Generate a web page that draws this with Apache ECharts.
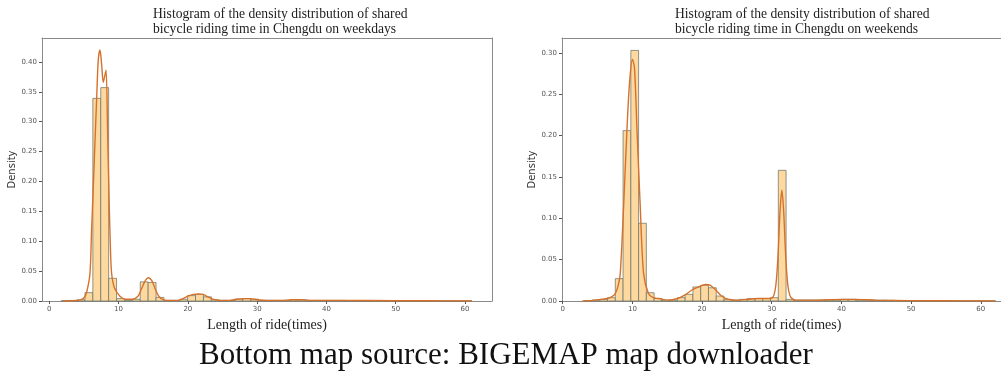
<!DOCTYPE html>
<html>
<head>
<meta charset="utf-8">
<script src="https://cdn.jsdelivr.net/npm/echarts@6/dist/echarts.min.js"></script>
<style>
html,body{margin:0;padding:0;background:#fff;}
#chart{width:1001px;height:373px;}
</style>
</head>
<body>
<div id="chart"></div>
<script>
// ---------- data ----------
const titleWeekday = 'Histogram of the density distribution of shared\nbicycle riding time in Chengdu on weekdays';
const titleWeekend = 'Histogram of the density distribution of shared\nbicycle riding time in Chengdu on weekends';
const xAxisTitle = 'Length of ride(times)';
const yAxisTitle = 'Density';
const caption = 'Bottom map source: BIGEMAP map downloader';

const xTicks = [0, 10, 20, 30, 40, 50, 60];
const yTicksWeekday = [0, 0.05, 0.10, 0.15, 0.20, 0.25, 0.30, 0.35, 0.40];
const yTicksWeekend = [0, 0.05, 0.10, 0.15, 0.20, 0.25, 0.30];

// histogram bins (left edge of first bin, bin width) and densities
const weekdayBinStart = 1.73;
const weekdayBinWidth = 1.14;
const weekdayDensity = [
  0.0005, 0.001, 0.002, 0.014, 0.339, 0.357, 0.038, 0.004, 0.001, 0.003,
  0.032, 0.031, 0.006, 0.001, 0.001, 0.003, 0.009, 0.011, 0.007, 0.002,
  0.001, 0.001, 0.003, 0.004, 0.003, 0.001, 0.001, 0.001, 0.001, 0.002,
  0.002, 0.001, 0.001, 0.001, 0.001, 0.001, 0.0008, 0.0008, 0.0006, 0.0006,
  0.0005, 0.0005, 0.0004, 0.0004, 0.0003, 0.0003, 0.0003, 0.0002, 0.0002, 0.0002,
  0.0001, 0.0001
];

const weekendBinStart = 3.094;
const weekendBinWidth = 1.114;
const weekendDensity = [
  0.0005, 0.001, 0.002, 0.004, 0.027, 0.206, 0.303, 0.094, 0.010, 0.003,
  0.001, 0.001, 0.004, 0.008, 0.017, 0.019, 0.016, 0.006, 0.002, 0.001,
  0.002, 0.003, 0.003, 0.003, 0.004, 0.158, 0.002, 0.001, 0.001, 0.001,
  0.001, 0.001, 0.001, 0.002, 0.002, 0.001, 0.001, 0.001, 0.001, 0.0008,
  0.0006, 0.0005, 0.0005, 0.0004, 0.0004, 0.0003, 0.0003, 0.0002, 0.0002, 0.0002,
  0.0001, 0.0001, 0.0001
];

// kernel density curves: [ride length, density]
const weekdayKde = [
  [2.0,0.0],[3.5,0.0005],[4.5,0.002],[5.0,0.005],[5.4,0.015],[5.87,0.046],[6.1,0.116],
  [6.38,0.2],[6.6,0.267],[6.85,0.342],[7.07,0.403],[7.32,0.42],[7.55,0.397],[7.79,0.366],
  [8.0,0.376],[8.2,0.386],[8.43,0.275],[8.66,0.158],[8.85,0.08],[9.0,0.046],[9.4,0.022],
  [10.2,0.008],[11.0,0.003],[12.0,0.003],[12.8,0.008],[13.3,0.02],[13.8,0.033],[14.3,0.039],
  [14.8,0.034],[15.3,0.02],[15.8,0.008],[16.5,0.002],[17.5,0.001],[18.5,0.001],[19.3,0.004],
  [20.0,0.008],[20.8,0.011],[21.5,0.012],[22.2,0.011],[22.9,0.007],[23.6,0.003],[24.5,0.001],
  [26.0,0.001],[27.0,0.003],[28.0,0.004],[29.0,0.004],[30.0,0.002],[31.5,0.001],[33.5,0.001],
  [35.0,0.002],[36.5,0.002],[38.0,0.001],[42.0,0.001],[50.0,0.0005],[55.0,0.0003],[61.0,0.0]
];
const weekendKde = [
  [2.8,0.0],[4.0,0.0005],[5.5,0.002],[6.4,0.003],[7.0,0.005],[7.55,0.009],[8.0,0.02],
  [8.27,0.034],[8.74,0.114],[9.22,0.207],[9.6,0.265],[10.0,0.292],[10.3,0.282],[10.66,0.207],
  [11.13,0.114],[11.6,0.034],[12.3,0.009],[13.0,0.004],[13.75,0.003],[15.0,0.001],[16.5,0.003],
  [17.5,0.007],[18.5,0.013],[19.5,0.017],[20.5,0.020],[21.2,0.019],[22.0,0.013],[22.8,0.006],
  [23.8,0.002],[25.0,0.001],[26.5,0.002],[28.0,0.003],[29.5,0.003],[30.2,0.005],[30.6,0.02],
  [30.9,0.055],[31.2,0.11],[31.45,0.134],[31.7,0.11],[32.0,0.055],[32.3,0.02],[32.7,0.005],
  [33.5,0.001],[36.0,0.001],[40.0,0.002],[42.0,0.002],[45.0,0.001],[50.0,0.0005],[55.0,0.0003],
  [62.0,0.0]
];

// ---------- chart ----------
const BAR_FILL = '#fdd9a0';
const BAR_EDGE = 'rgba(110,118,105,0.75)';
const KDE_COLOR = '#d7712a';
const FRAME = '#8a8a8a';

function histSeries(density, start, width, idx) {
  return {
    type: 'custom',
    xAxisIndex: idx, yAxisIndex: idx,
    data: density.map((d, i) => [start + i * width, d]),
    renderItem: function (params, api) {
      const x0 = api.value(0);
      const h = api.value(1);
      const p0 = api.coord([x0, h]);
      const p1 = api.coord([x0 + width, 0]);
      return {
        type: 'rect',
        shape: { x: p0[0], y: p0[1], width: p1[0] - p0[0], height: p1[1] - p0[1] },
        style: { fill: BAR_FILL, stroke: BAR_EDGE, lineWidth: 1 }
      };
    },
    z: 2
  };
}
function kdeSeries(data, idx) {
  return {
    type: 'line', xAxisIndex: idx, yAxisIndex: idx, data: data,
    smooth: 0.3, showSymbol: false, symbol: 'none',
    lineStyle: { color: KDE_COLOR, width: 1.4 }, z: 3, silent: true
  };
}
function xAxis(idx, min, max) {
  return {
    type: 'value', gridIndex: idx, min: min, max: max, position: 'bottom',
    axisLine: { show: true, onZero: false, lineStyle: { color: FRAME, width: 1 } },
    splitLine: { show: false },
    axisTick: { show: true, length: 3, lineStyle: { color: '#555' }, customValues: xTicks },
    axisLabel: { customValues: xTicks, fontSize: 7, color: '#555', fontFamily: 'DejaVu Sans', margin: 5 },
    name: xAxisTitle, nameLocation: 'middle', nameGap: 16,
    nameTextStyle: { fontFamily: 'Liberation Serif', fontSize: 14, color: '#222' }
  };
}
function topFrame(idx, min, max) {
  return {
    type: 'value', gridIndex: idx, min: min, max: max, position: 'top',
    axisLine: { show: true, onZero: false, lineStyle: { color: FRAME, width: 1 } },
    axisTick: { show: false }, axisLabel: { show: false }, splitLine: { show: false }
  };
}
function yAxis(idx, max, ticks) {
  return {
    type: 'value', gridIndex: idx, min: 0, max: max, position: 'left',
    axisLine: { show: true, onZero: false, lineStyle: { color: FRAME, width: 1 } },
    splitLine: { show: false },
    axisTick: { show: true, length: 3, lineStyle: { color: '#555' }, customValues: ticks },
    axisLabel: { customValues: ticks, fontSize: 7, color: '#555', fontFamily: 'DejaVu Sans', margin: 5,
      formatter: v => v.toFixed(2) },
    name: yAxisTitle, nameLocation: 'middle', nameGap: 24,
    nameTextStyle: { fontFamily: 'DejaVu Sans', fontSize: 10, color: '#333' }
  };
}
function rightFrame(idx, max) {
  return {
    type: 'value', gridIndex: idx, min: 0, max: max, position: 'right',
    axisLine: { show: true, onZero: false, lineStyle: { color: FRAME, width: 1 } },
    axisTick: { show: false }, axisLabel: { show: false }, splitLine: { show: false }
  };
}

const chart = echarts.init(document.getElementById('chart'), null, { renderer: 'canvas' });
chart.setOption({
  animation: false,
  backgroundColor: '#fff',
  title: [
    { text: titleWeekday, left: 148, top: 2,
      textStyle: { fontFamily: 'Liberation Serif', fontSize: 13.6, fontWeight: 'normal', color: '#222', lineHeight: 15 } },
    { text: titleWeekend, left: 670, top: 2,
      textStyle: { fontFamily: 'Liberation Serif', fontSize: 13.6, fontWeight: 'normal', color: '#222', lineHeight: 15 } },
    { text: caption, left: 194, top: 335,
      textStyle: { fontFamily: 'Liberation Serif', fontSize: 31, fontWeight: 'normal', color: '#111' } }
  ],
  grid: [
    { left: 42, top: 38, width: 450, height: 263, show: false },
    { left: 562, top: 38, width: 439, height: 263, show: false }
  ],
  xAxis: [xAxis(0, -1.05, 63.9), xAxis(1, -0.1, 62.9), topFrame(0, -1.05, 63.9), topFrame(1, -0.1, 62.9)],
  yAxis: [yAxis(0, 0.44, yTicksWeekday), yAxis(1, 0.318, yTicksWeekend), rightFrame(0, 0.44)],
  series: [
    histSeries(weekdayDensity, weekdayBinStart, weekdayBinWidth, 0),
    kdeSeries(weekdayKde, 0),
    histSeries(weekendDensity, weekendBinStart, weekendBinWidth, 1),
    kdeSeries(weekendKde, 1)
  ]
});
</script>
</body>
</html>
